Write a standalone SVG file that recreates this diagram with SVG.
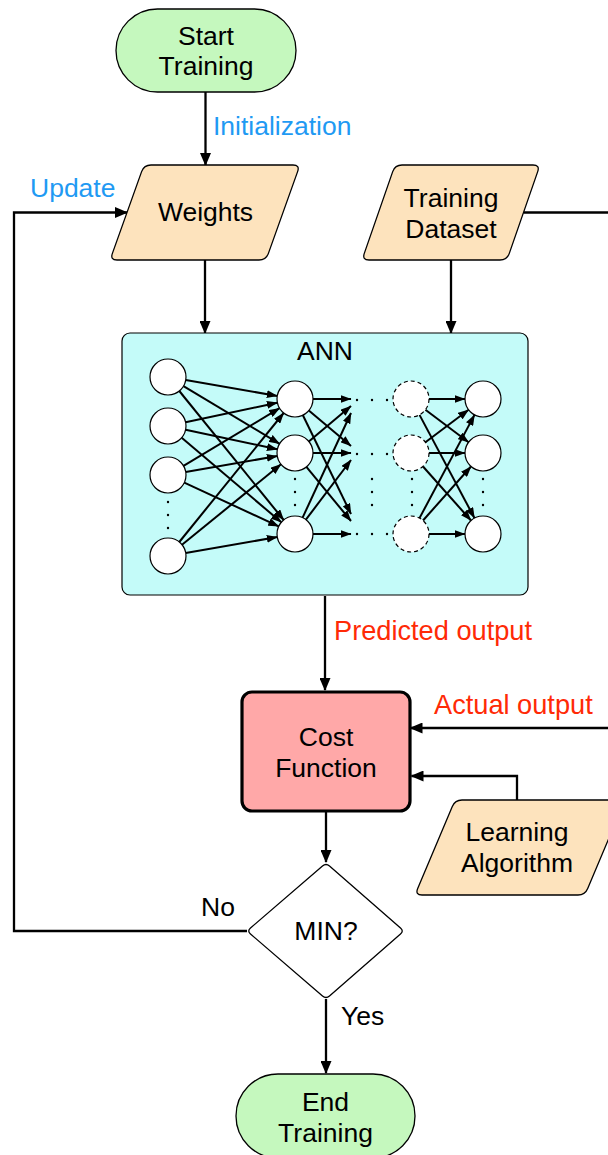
<svg xmlns="http://www.w3.org/2000/svg" width="608" height="1155" viewBox="0 0 608 1155">
  <style>
    text { font-family: "Liberation Sans", Arial, Helvetica, sans-serif; font-size: 26.5px; fill: #000; }
    .c { text-anchor: middle; }
    .blue { fill: #1f9af3; }
    .red { fill: #ff2a06; font-size: 27.2px; }
    .term { fill: #c5f8be; stroke: #000; stroke-width: 1.3; }
    .io { fill: #fde3bd; stroke: #000; stroke-width: 1.3; }
    .ann { fill: #c4fbf9; stroke: #000; stroke-width: 1.2; }
    .cost { fill: #ffa8a8; stroke: #000; stroke-width: 3.2; }
    .dec { fill: #fff; stroke: #000; stroke-width: 1.3; }
    .flow { fill: none; stroke: #000; stroke-width: 2.3; marker-end: url(#ah); }
    .neuron { fill: #fff; stroke: #000; stroke-width: 1.2; }
    .hidden { fill: #fff; stroke: #000; stroke-width: 1.2; stroke-dasharray: 4 3; }
    .syn { fill: none; stroke: #000; stroke-width: 2; marker-end: url(#ahs); }
    .dot { fill: #000; }
  </style>
  <defs>
    <marker id="ah" viewBox="0 0 13 11" refX="12" refY="5.5" markerWidth="13" markerHeight="11" markerUnits="userSpaceOnUse" orient="auto">
      <path d="M0,0 L13,5.5 L0,11 z" fill="#000"/>
    </marker>
    <marker id="ahs" viewBox="0 0 11 8" refX="10.5" refY="4" markerWidth="11" markerHeight="8" markerUnits="userSpaceOnUse" orient="auto">
      <path d="M0,0 L11,4 L0,8 z" fill="#000"/>
    </marker>
  </defs>

  <!-- connectors -->
  <g id="connectors">
    <path class="flow" d="M205.5,92 V165"/>
    <path class="flow" d="M205,260 V333"/>
    <path class="flow" d="M451,259 V333"/>
    <path class="flow" d="M523.5,212.5 H640 V728 H410.5"/>
    <path class="flow" d="M325,596 V690"/>
    <path class="flow" d="M517,800 V776 H411.5"/>
    <path class="flow" d="M326,812 V862"/>
    <path class="flow" d="M326,999 V1073"/>
    <path class="flow" d="M247,931 H14 V212.5 H127"/>
  </g>

  <!-- connector labels -->
  <g id="labels">
    <text class="blue" x="213" y="135">Initialization</text>
    <text class="blue" x="30" y="197">Update</text>
    <text class="red" x="334" y="640">Predicted output</text>
    <text class="red" x="434" y="714">Actual output</text>
    <text x="201" y="916">No</text>
    <text x="341" y="1025">Yes</text>
  </g>

  <g id="start">
    <rect class="term" x="116" y="9" width="180" height="83" rx="41.5"/>
    <text class="c" x="206" y="45">Start</text>
    <text class="c" x="206" y="75">Training</text>
  </g>

  <g id="weights">
    <path class="io" d="M151,165 H293 Q300,165 297.6,171.6 L268.4,253.4 Q266,260 259,260 H117 Q110,260 112.4,253.4 L141.6,171.6 Q144,165 151,165 Z"/>
    <text class="c" x="205.5" y="221">Weights</text>
  </g>

  <g id="dataset">
    <path class="io" d="M402,165 H533 Q540,165 537.7,171.6 L509.3,253.4 Q507,260 500,260 H369 Q362,260 364.3,253.4 L392.7,171.6 Q395,165 402,165 Z"/>
    <text class="c" x="451" y="207">Training</text>
    <text class="c" x="451" y="238">Dataset</text>
  </g>

  <g id="ann">
    <rect class="ann" x="122" y="333" width="406" height="262" rx="8"/>
    <text class="c" x="325" y="360">ANN</text>

    <!-- input layer to first hidden layer -->
    <path class="syn" d="M185.7,380.1 L277.3,395.9"/>
    <path class="syn" d="M183.5,386.2 L279.6,443.8"/>
    <path class="syn" d="M179.3,391 L283.7,520"/>
    <path class="syn" d="M185.6,422.3 L277.4,402.7"/>
    <path class="syn" d="M185.6,429.7 L277.4,449.3"/>
    <path class="syn" d="M181.7,437.7 L281.3,522.3"/>
    <path class="syn" d="M183.5,465.8 L279.6,408.2"/>
    <path class="syn" d="M185.7,471.9 L277.3,456.1"/>
    <path class="syn" d="M184.3,482.6 L278.7,526.4"/>
    <path class="syn" d="M179.3,542 L283.7,413"/>
    <path class="syn" d="M182,544.7 L281,464.3"/>
    <path class="syn" d="M185.7,552.9 L277.3,537.1"/>

    <!-- first hidden layer towards the elided layers -->
    <path class="syn" d="M313,399 L351,399"/>
    <path class="syn" d="M308.8,441.4 L351,406"/>
    <path class="syn" d="M302.6,517.7 L351,413"/>
    <path class="syn" d="M308.8,410.6 L351,446"/>
    <path class="syn" d="M313,453 L351,453"/>
    <path class="syn" d="M305.9,519.6 L351,460"/>
    <path class="syn" d="M302.9,415.2 L351,514"/>
    <path class="syn" d="M306.4,466.9 L351,521"/>
    <path class="syn" d="M313,534 L351,534"/>

    <!-- last hidden layer to output layer -->
    <path class="syn" d="M429,399 L465,399"/>
    <path class="syn" d="M425.4,409.8 L468.6,442.2"/>
    <path class="syn" d="M419.5,414.9 L474.5,518.1"/>
    <path class="syn" d="M425.4,442.2 L468.6,409.8"/>
    <path class="syn" d="M429,453 L465,453"/>
    <path class="syn" d="M423,466.5 L471,520.5"/>
    <path class="syn" d="M419.5,518.1 L474.5,414.9"/>
    <path class="syn" d="M423,520.5 L471,466.5"/>
    <path class="syn" d="M429,534 L465,534"/>

    <!-- neurons -->
    <circle class="neuron" cx="168" cy="377" r="18"/>
    <circle class="neuron" cx="168" cy="426" r="18"/>
    <circle class="neuron" cx="168" cy="475" r="18"/>
    <circle class="neuron" cx="168" cy="556" r="18"/>
    <circle class="neuron" cx="295" cy="399" r="18"/>
    <circle class="neuron" cx="295" cy="453" r="18"/>
    <circle class="neuron" cx="295" cy="534" r="18"/>
    <circle class="hidden" cx="411" cy="399" r="18"/>
    <circle class="hidden" cx="411" cy="453" r="18"/>
    <circle class="hidden" cx="411" cy="534" r="18"/>
    <circle class="neuron" cx="483" cy="399" r="18"/>
    <circle class="neuron" cx="483" cy="453" r="18"/>
    <circle class="neuron" cx="483" cy="534" r="18"/>

    <!-- ellipsis dots -->
    <g class="dot">
      <circle cx="357" cy="400" r="1.2"/><circle cx="372" cy="400" r="1.2"/><circle cx="387" cy="400" r="1.2"/>
      <circle cx="357" cy="454" r="1.2"/><circle cx="372" cy="454" r="1.2"/><circle cx="387" cy="454" r="1.2"/>
      <circle cx="357" cy="534" r="1.2"/><circle cx="372" cy="534" r="1.2"/><circle cx="387" cy="534" r="1.2"/>
      <circle cx="168" cy="502" r="1.2"/><circle cx="168" cy="515" r="1.2"/><circle cx="168" cy="528" r="1.2"/>
      <circle cx="295" cy="479" r="1.2"/><circle cx="295" cy="492" r="1.2"/><circle cx="295" cy="505" r="1.2"/>
      <circle cx="372" cy="479" r="1.2"/><circle cx="372" cy="492" r="1.2"/><circle cx="372" cy="505" r="1.2"/>
      <circle cx="412" cy="479" r="1.2"/><circle cx="412" cy="492" r="1.2"/><circle cx="412" cy="505" r="1.2"/>
      <circle cx="483" cy="479" r="1.2"/><circle cx="483" cy="492" r="1.2"/><circle cx="483" cy="505" r="1.2"/>
    </g>
  </g>

  <g id="cost">
    <rect class="cost" x="242" y="692" width="168" height="119" rx="10"/>
    <text class="c" x="326" y="746">Cost</text>
    <text class="c" x="326" y="777">Function</text>
  </g>

  <g id="learning">
    <path class="io" d="M462,800 H618 Q625,800 622.3,806.5 L587.7,888.5 Q585,895 578,895 H422 Q415,895 417.7,888.5 L452.3,806.5 Q455,800 462,800 Z"/>
    <text class="c" x="517" y="841">Learning</text>
    <text class="c" x="517" y="872">Algorithm</text>
  </g>

  <g id="decision">
    <path class="dec" d="M322.5,866 Q326,863 329.5,866 L400.5,928 Q404,931 400.5,934 L329.5,996 Q326,999 322.5,996 L250.5,934 Q247,931 250.5,928 Z"/>
    <text class="c" x="326" y="940">MIN?</text>
  </g>

  <g id="end">
    <rect class="term" x="236" y="1074" width="179" height="84" rx="42"/>
    <text class="c" x="325.5" y="1111">End</text>
    <text class="c" x="325.5" y="1142">Training</text>
  </g>
</svg>
